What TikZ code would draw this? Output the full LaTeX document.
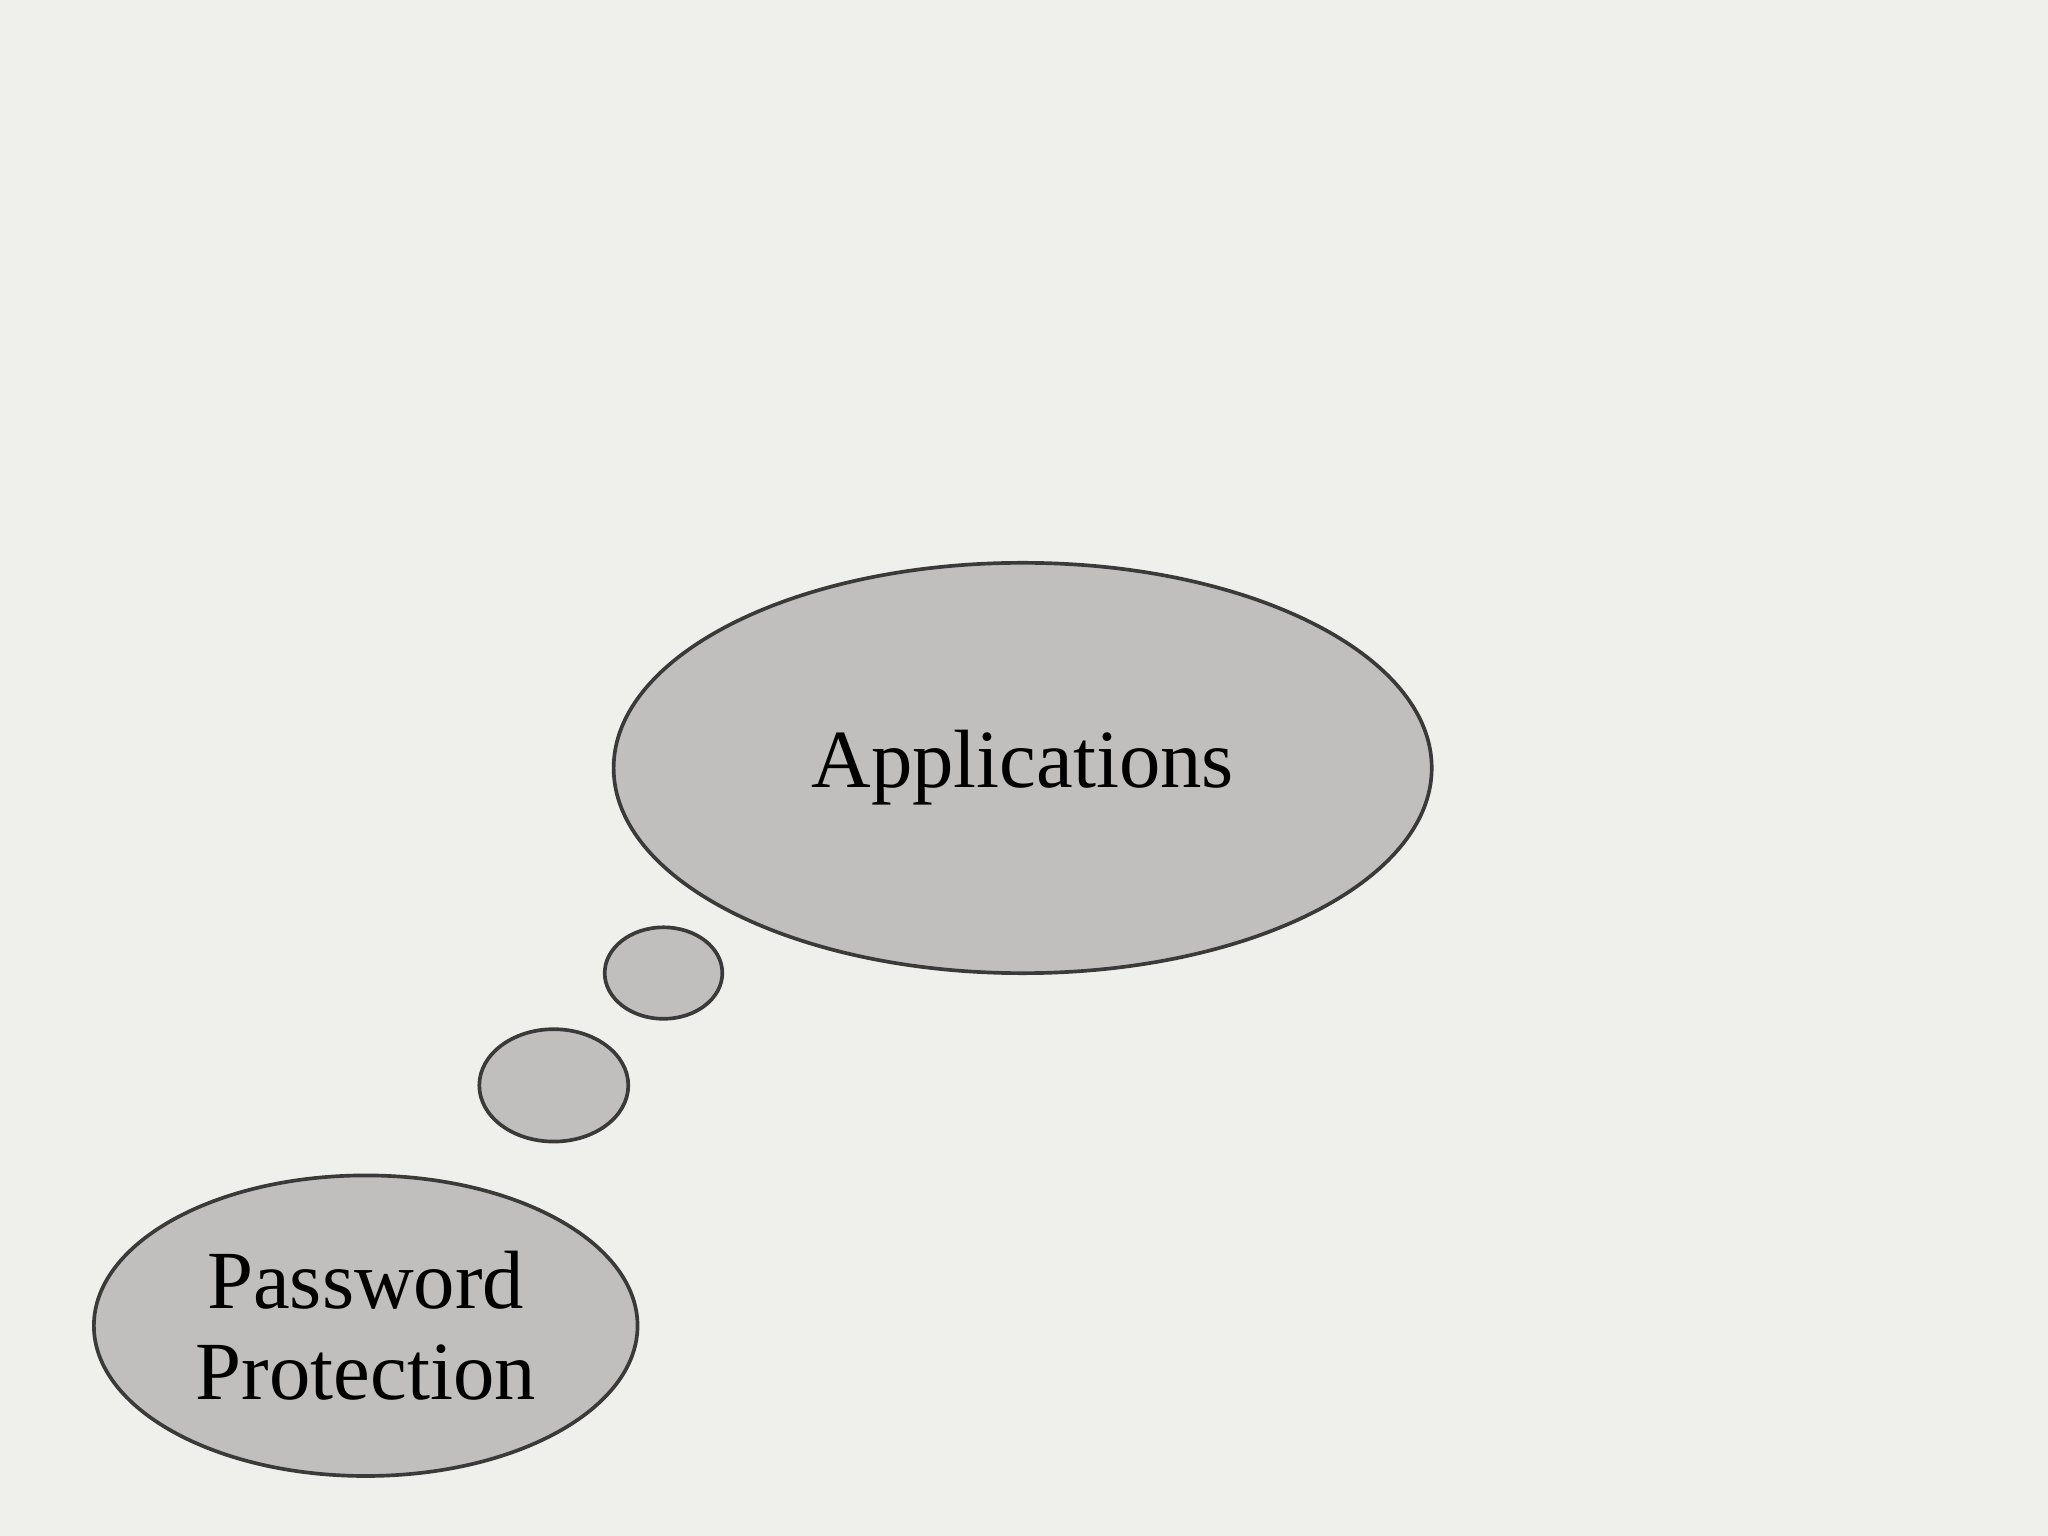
\documentclass[tikz,border=0pt]{standalone}
\usepackage{fontspec}
\setmainfont{Liberation Serif}
\usetikzlibrary{shapes.geometric}
\definecolor{bg}{HTML}{EFEFEC}
\definecolor{bub}{HTML}{C0BFBE}
\definecolor{edge}{HTML}{3A3A3A}
\tikzset{bubble/.style={ellipse,draw=edge,fill=bub,line width=0.8pt,inner sep=0pt,align=center,font=\fontsize{18}{22}\selectfont}}
\begin{document}
\begin{tikzpicture}[x=0.01cm,y=-0.01cm]
\fill[bg] (0,0) rectangle (1568,1176);
\useasboundingbox (0,0) rectangle (1568,1176);
\node[bubble,minimum width=626\pgflinewidth*0+6.26cm,minimum height=3.14cm] (app) at (783,588) {Applications};
\node[bubble,minimum width=0.9cm,minimum height=0.7cm] (c1) at (508,745) {};
\node[bubble,minimum width=1.14cm,minimum height=0.86cm] (c2) at (424,831) {};
\node[bubble,minimum width=4.16cm,minimum height=2.3cm] (pw) at (280,1015) {Password\\[-2pt]Protection};
\end{tikzpicture}
\end{document}
